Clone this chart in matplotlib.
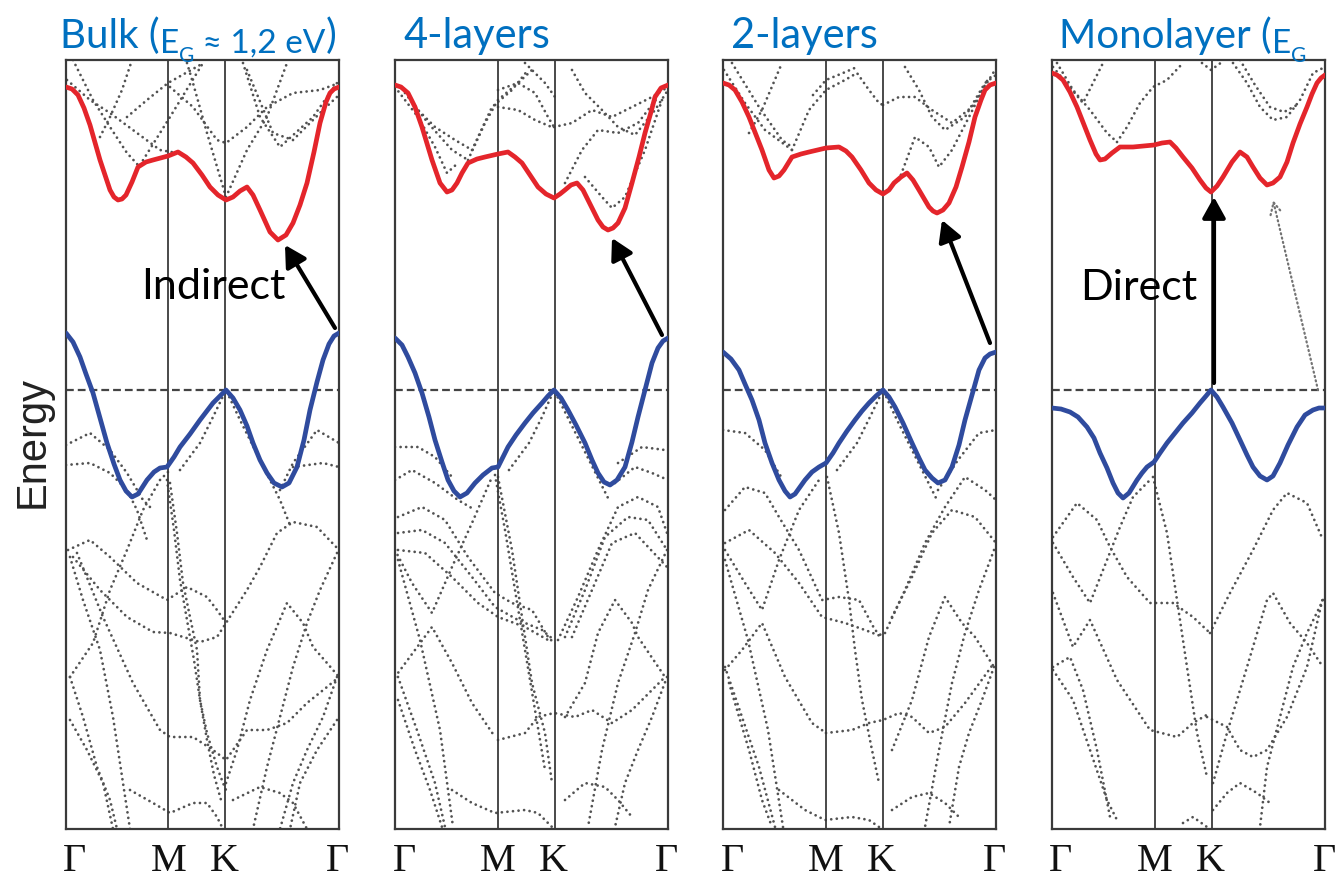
import matplotlib
matplotlib.use("Agg")
import matplotlib.pyplot as plt

W, H = 1337, 880

# path Γ - M - K - Γ (path units), energy in eV-like units, VBM = 0
KPTS = [0, 102.5, 159.5, 273]
KLABELS = ["Γ", "M", "K", "Γ"]
KLABEL_POS = [9, 103, 158, 272]
E_MIN, E_MAX = -4.39, 3.30

# ---------------- bulk ----------------
BULK_CB_K = [0, 6, 12, 18, 24, 34, 44, 48, 52, 56, 60, 66, 72, 80, 87, 102, 112, 120, 127, 136, 144, 152, 160,
             167, 174, 181, 187, 194, 204, 212, 220, 227, 234, 241, 248, 254, 260, 264, 268, 273]
BULK_CB_E = [3.03, 3.01, 2.95, 2.82, 2.65, 2.30, 2.00, 1.93, 1.90, 1.91, 1.95, 2.08, 2.23, 2.28, 2.30, 2.34, 2.38,
             2.33, 2.27, 2.15, 2.03, 1.95, 1.90, 1.93, 1.99, 2.03, 1.95, 1.80, 1.58, 1.50, 1.55, 1.67, 1.85, 2.07,
             2.38, 2.67, 2.88, 2.97, 3.01, 3.03]
BULK_VB_K = [0, 7, 14, 20, 27, 34, 41, 48, 54, 60, 66, 72, 81, 88, 94, 101, 108, 114, 124, 134, 147, 153, 160,
             167, 174, 181, 187, 194, 201, 208, 216, 223, 231, 238, 244, 251, 257, 263, 268, 273]
BULK_VB_E = [0.57, 0.48, 0.33, 0.16, -0.03, -0.28, -0.53, -0.74, -0.90, -1.01, -1.07, -1.04, -0.90, -0.82, -0.78,
             -0.77, -0.67, -0.57, -0.44, -0.30, -0.13, -0.07, 0.00, -0.08, -0.20, -0.36, -0.53, -0.70, -0.83, -0.93,
             -0.97, -0.93, -0.77, -0.50, -0.20, 0.08, 0.30, 0.46, 0.54, 0.57]
BULK_DOTS = [
    ([7, 27, 44, 61, 72], [3.30, 2.90, 2.63, 2.37, 2.25]),
    ([1, 24, 44, 71, 94, 111], [3.10, 2.90, 2.77, 2.57, 2.40, 2.37]),
    ([34, 44, 56, 66], [2.53, 2.73, 3.00, 3.30]),
    ([74, 104, 137], [2.25, 2.73, 3.27]),
    ([104, 127, 151, 160, 181, 201, 227, 254, 273], [3.03, 2.83, 2.50, 2.47, 2.63, 2.83, 2.97, 3.00, 3.07]),
    ([61, 81, 102, 134], [2.73, 2.90, 3.07, 3.25]),
    ([177, 194, 214, 247, 271], [3.27, 2.73, 2.43, 2.73, 3.07]),
    ([181, 207, 227, 257, 273], [3.20, 2.57, 2.50, 2.80, 2.95]),
    ([160, 181, 201, 211, 221], [1.93, 2.40, 2.73, 3.00, 3.27]),
    ([121, 127, 141, 160], [3.27, 3.07, 2.57, 1.93]),
    ([2, 24, 44, 71, 101, 121, 141, 151, 160], [-1.60, -1.50, -1.67, -1.93, -2.10, -1.97, -2.07, -2.20, -2.33]),
    ([7, 34, 61, 87, 104, 134, 151, 160, 181, 194, 211, 227, 251, 273],
     [-1.67, -2.00, -2.27, -2.42, -2.43, -2.52, -2.47, -2.33, -2.00, -1.77, -1.43, -1.32, -1.37, -1.60]),
    ([11, 37, 67, 94, 104, 127, 147, 160, 181, 201, 221, 241, 261, 273],
     [-1.63, -2.27, -2.93, -3.40, -3.47, -3.47, -3.60, -3.70, -3.40, -3.40, -3.33, -3.13, -2.97, -2.87]),
    ([4, 27, 44, 61, 77, 94, 104], [-2.87, -2.53, -2.00, -1.60, -1.20, -0.90, -0.80]),
    ([4, 17, 34, 47, 57, 64], [-1.67, -2.10, -2.60, -3.27, -3.93, -4.39]),
    ([4, 17, 31, 44, 51], [-2.87, -3.27, -3.77, -4.10, -4.39]),
    ([4, 21, 37, 47], [-3.30, -3.60, -3.93, -4.39]),
    ([104, 111, 117, 124, 131, 134, 141, 151, 157, 160], [-0.93, -1.43, -1.93, -2.27, -2.60, -3.10, -3.43, -3.77, -3.93, -4.00]),
    ([101, 108, 114, 121, 128, 134, 141, 148, 155], [-0.90, -1.40, -1.90, -2.30, -2.70, -3.10, -3.50, -3.85, -4.10]),
    ([64, 87, 104, 127, 141, 151, 157], [-4.00, -4.13, -4.23, -4.13, -4.13, -4.27, -4.39]),
    ([160, 171, 184, 201, 221, 237, 247, 261, 273], [-3.93, -3.60, -3.10, -2.60, -2.13, -2.33, -2.57, -2.73, -2.87]),
    ([271, 254, 241, 227, 214, 201, 187], [-1.63, -2.00, -2.33, -2.77, -3.27, -3.77, -4.39]),
    ([271, 257, 241, 227, 214], [-2.87, -3.27, -3.60, -3.93, -4.39]),
    ([271, 251, 234, 224], [-3.30, -3.60, -3.93, -4.39]),
    ([167, 194, 214, 227, 241], [-4.10, -3.97, -4.03, -4.13, -4.39]),
    ([0, 24, 44, 61, 77, 87], [-0.55, -0.43, -0.60, -0.83, -1.10, -1.20]),
    ([0, 24, 44, 61, 71, 81], [-0.75, -0.73, -0.83, -1.00, -1.20, -1.50]),
    ([214, 227, 251, 273], [-1.00, -0.73, -0.40, -0.53]),
    ([227, 257, 273], [-0.77, -0.73, -0.77]),
    ([114, 134, 147, 160, 174, 194, 214, 224], [-0.80, -0.53, -0.27, 0.00, -0.30, -0.70, -1.10, -1.35]),
]

# ---------------- 4 layers ----------------
L4_CB_K = [0, 6, 13, 20, 27, 37, 45, 52, 57, 62, 67, 73, 82, 90, 103, 113, 120, 127, 135, 143, 151, 159, 165, 170,
           176, 182, 188, 193, 203, 208, 213, 218, 223, 230, 237, 244, 250, 256, 260, 266, 273]
L4_CB_E = [3.05, 3.03, 2.97, 2.83, 2.63, 2.30, 2.07, 1.98, 2.00, 2.07, 2.17, 2.27, 2.31, 2.33, 2.36, 2.38, 2.33,
           2.27, 2.15, 2.03, 1.96, 1.92, 1.96, 2.00, 2.05, 2.07, 2.00, 1.90, 1.70, 1.63, 1.60, 1.62, 1.67, 1.82,
           2.07, 2.33, 2.57, 2.78, 2.93, 3.02, 3.05]
L4_VB_K = [0, 7, 13, 20, 27, 34, 40, 47, 53, 59, 65, 72, 80, 88, 97, 103, 108, 113, 121, 130, 138, 147, 153, 159,
           166, 173, 181, 190, 197, 203, 209, 215, 222, 230, 237, 243, 250, 257, 263, 268, 273]
L4_VB_E = [0.52, 0.45, 0.33, 0.17, -0.03, -0.27, -0.50, -0.72, -0.90, -1.01, -1.07, -1.03, -0.93, -0.85, -0.78,
           -0.77, -0.67, -0.57, -0.45, -0.33, -0.23, -0.13, -0.06, 0.00, -0.08, -0.20, -0.35, -0.53, -0.70, -0.83,
           -0.92, -0.95, -0.90, -0.77, -0.52, -0.27, 0.00, 0.27, 0.42, 0.49, 0.52]
L4_DOTS = [
    ([0, 23, 40, 52, 63], [3.03, 2.73, 2.43, 2.17, 2.27]),
    ([10, 33, 57, 73], [2.97, 2.67, 2.40, 2.30]),
    ([20, 40, 60, 77], [2.83, 2.63, 2.50, 2.40]),
    ([73, 90, 103, 123, 137], [2.30, 2.67, 2.90, 3.07, 3.20]),
    ([77, 97, 117, 133], [2.40, 2.83, 3.00, 3.20]),
    ([103, 123, 140, 153, 159], [3.00, 3.07, 2.97, 2.73, 2.63]),
    ([103, 123, 140, 159], [2.83, 2.80, 2.70, 2.62]),
    ([130, 137, 150, 160], [3.27, 3.20, 3.07, 2.93]),
    ([159, 177, 197, 217, 237, 257, 273], [2.63, 2.67, 2.80, 2.73, 2.83, 2.93, 3.03]),
    ([170, 187, 203, 223, 243, 263], [2.07, 2.40, 2.60, 2.57, 2.67, 2.93]),
    ([190, 207, 217, 230, 250, 267], [2.13, 1.93, 1.82, 1.93, 2.40, 2.90]),
    ([177, 190, 207, 223, 240, 260, 273], [3.20, 2.97, 2.80, 2.63, 2.55, 2.80, 3.00]),
    ([0, 23, 40, 57], [-0.57, -0.57, -0.67, -0.87]),
    ([0, 17, 40, 63, 80], [-0.90, -0.80, -0.93, -1.10, -1.20]),
    ([223, 247, 270, 273], [-0.73, -0.57, -0.60, -0.62]),
    ([220, 240, 257, 273], [-0.93, -0.77, -0.83, -0.90]),
    ([3, 27, 50, 73, 100, 117, 137, 153, 159], [-1.27, -1.17, -1.30, -1.67, -2.03, -2.13, -2.20, -2.47, -2.53]),
    ([3, 27, 50, 77, 100, 123, 147, 159], [-1.43, -1.40, -1.53, -1.87, -2.17, -2.30, -2.40, -2.50]),
    ([3, 30, 57, 83, 103, 130, 153], [-1.60, -1.63, -1.87, -2.13, -2.27, -2.37, -2.50]),
    ([0, 17, 37, 57, 77, 97], [-1.60, -1.93, -2.23, -1.77, -1.33, -0.87]),
    ([0, 20, 37, 57, 77, 100], [-2.87, -2.60, -2.37, -2.73, -3.13, -3.47]),
    ([103, 130, 143, 159, 180, 197, 217, 237, 270], [-3.50, -3.43, -3.27, -3.23, -3.27, -3.20, -3.33, -3.20, -2.87]),
    ([103, 117, 127, 137, 150, 157], [-0.87, -1.60, -2.27, -2.93, -3.43, -3.93]),
    ([100, 110, 120, 130, 140, 150], [-0.85, -1.40, -2.00, -2.60, -3.20, -3.80]),
    ([3, 23, 40, 50], [-2.87, -3.43, -3.93, -4.37]),
    ([3, 20, 35, 47], [-3.10, -3.60, -4.00, -4.37]),
    ([3, 25, 45, 58], [-1.70, -2.50, -3.40, -4.37]),
    ([57, 77, 100, 130, 143, 157], [-4.00, -4.13, -4.23, -4.20, -4.23, -4.37]),
    ([163, 183, 203, 223, 243, 263, 272], [-2.50, -2.07, -1.60, -1.17, -1.07, -1.17, -1.43]),
    ([170, 190, 210, 233, 253, 272], [-2.47, -2.00, -1.47, -1.27, -1.30, -1.60]),
    ([177, 197, 217, 240, 272], [-2.47, -2.00, -1.53, -1.43, -1.77]),
    ([170, 190, 203, 220, 237, 243, 270], [-3.27, -2.93, -2.43, -2.10, -2.33, -2.47, -2.87]),
    ([272, 253, 240, 223, 207, 193], [-1.60, -2.00, -2.43, -2.93, -3.60, -4.37]),
    ([272, 257, 243, 230, 220], [-2.87, -3.27, -3.60, -3.93, -4.37]),
    ([170, 190, 210, 223, 237], [-4.10, -3.93, -3.97, -4.10, -4.27]),
    ([114, 134, 147, 159, 174, 194, 214], [-0.80, -0.53, -0.27, 0.00, -0.30, -0.70, -1.10]),
]

# ---------------- 2 layers ----------------
L2_CB_K = [0, 6, 12, 19, 26, 39, 46, 51, 56, 61, 69, 78, 86, 103, 116, 123, 129, 138, 146, 153, 160, 166, 171, 178,
           184, 190, 196, 206, 210, 214, 220, 226, 233, 239, 246, 252, 258, 262, 267, 273]
L2_CB_E = [3.07, 3.05, 3.00, 2.88, 2.73, 2.40, 2.20, 2.12, 2.14, 2.20, 2.33, 2.36, 2.38, 2.42, 2.43, 2.39, 2.33,
           2.20, 2.07, 2.00, 1.96, 2.00, 2.07, 2.13, 2.17, 2.10, 2.00, 1.83, 1.79, 1.77, 1.80, 1.87, 2.03, 2.23,
           2.48, 2.73, 2.90, 3.00, 3.05, 3.07]
L2_VB_K = [0, 8, 16, 22, 29, 36, 42, 49, 56, 62, 67, 72, 82, 89, 96, 103, 110, 116, 124, 132, 139, 146, 153, 160,
           166, 172, 180, 189, 196, 202, 209, 215, 222, 229, 236, 242, 249, 256, 262, 267, 273]
L2_VB_E = [0.38, 0.31, 0.20, 0.06, -0.10, -0.30, -0.53, -0.73, -0.90, -1.01, -1.07, -1.04, -0.90, -0.82, -0.77,
           -0.73, -0.63, -0.53, -0.41, -0.30, -0.21, -0.13, -0.06, 0.00, -0.07, -0.17, -0.33, -0.53, -0.68, -0.80,
           -0.88, -0.93, -0.90, -0.77, -0.55, -0.30, -0.05, 0.20, 0.32, 0.36, 0.38]
L2_DOTS = [
    ([1, 22, 42, 69], [3.20, 2.87, 2.60, 2.40]),
    ([9, 36, 59, 69], [3.27, 2.83, 2.50, 2.43]),
    ([69, 86, 103, 122, 134, 146, 156, 160], [2.40, 2.80, 3.00, 3.10, 3.17, 3.00, 2.87, 2.85]),
    ([160, 176, 192, 209, 229, 249, 272], [2.85, 2.93, 2.93, 2.80, 2.67, 2.83, 3.20]),
    ([26, 39, 59], [2.57, 2.80, 3.27]),
    ([182, 196, 209, 222, 242, 262, 273], [3.23, 3.00, 2.73, 2.60, 2.73, 3.07, 3.15]),
    ([176, 192, 206, 216, 229, 246, 266], [2.10, 2.53, 2.43, 2.23, 2.40, 2.73, 3.13]),
    ([90, 103, 120, 134], [2.95, 3.10, 3.17, 3.23]),
    ([0, 22, 42, 60], [-0.40, -0.43, -0.60, -0.90]),
    ([215, 235, 256, 273], [-1.00, -0.70, -0.43, -0.40]),
    ([2, 22, 42, 56, 76, 99, 116, 136, 152, 160], [-1.20, -0.97, -1.03, -1.27, -1.60, -2.10, -2.07, -2.10, -2.40, -2.47]),
    ([2, 26, 52, 76, 99, 122, 142, 160], [-1.53, -1.40, -1.63, -1.93, -2.27, -2.33, -2.40, -2.47]),
    ([162, 182, 202, 222, 242, 262, 273], [-2.43, -2.00, -1.53, -1.17, -0.87, -1.00, -1.10]),
    ([169, 189, 209, 229, 252, 273], [-2.27, -1.87, -1.43, -1.20, -1.27, -1.53]),
    ([2, 22, 39, 56, 76, 96], [-1.60, -1.93, -2.20, -1.70, -1.20, -0.90]),
    ([2, 19, 39, 62, 89, 103], [-2.80, -2.60, -2.33, -2.87, -3.33, -3.43]),
    ([103, 129, 146, 160, 176, 189, 206, 222, 242, 271], [-3.43, -3.40, -3.33, -3.30, -3.23, -3.27, -3.43, -3.37, -3.13, -2.73]),
    ([104, 116, 126, 132, 139, 149, 156], [-0.87, -1.43, -2.10, -2.60, -3.10, -3.60, -3.93]),
    ([2, 19, 36, 52], [-2.77, -3.27, -3.77, -4.37]),
    ([6, 26, 39, 49], [-2.93, -3.60, -4.10, -4.37]),
    ([2, 25, 45, 60], [-1.70, -2.50, -3.40, -4.37]),
    ([56, 82, 102, 129, 146, 156], [-4.00, -4.20, -4.30, -4.27, -4.30, -4.37]),
    ([169, 189, 206, 222, 239, 252, 271], [-3.60, -3.10, -2.47, -2.07, -2.33, -2.47, -2.77]),
    ([271, 256, 242, 229, 216, 202], [-1.60, -2.00, -2.43, -2.93, -3.60, -4.37]),
    ([271, 259, 246, 236, 226], [-2.77, -3.10, -3.43, -3.77, -4.37]),
    ([169, 189, 206, 222, 236], [-4.20, -4.07, -4.03, -4.13, -4.27]),
    ([114, 134, 147, 160, 174, 194, 214], [-0.80, -0.53, -0.27, 0.00, -0.30, -0.70, -1.10]),
]

# ---------------- monolayer ----------------
ML_CB_K = [0, 5, 11, 18, 25, 38, 44, 48, 53, 60, 68, 81, 102, 110, 118, 124, 131, 140, 148, 154, 159, 165, 171,
           180, 188, 195, 201, 208, 215, 221, 228, 235, 241, 248, 255, 260, 265, 269, 273]
ML_CB_E = [3.17, 3.15, 3.10, 2.98, 2.83, 2.50, 2.36, 2.30, 2.31, 2.37, 2.43, 2.43, 2.45, 2.47, 2.48, 2.42, 2.33,
           2.22, 2.10, 2.02, 1.98, 2.04, 2.13, 2.28, 2.38, 2.33, 2.23, 2.12, 2.05, 2.07, 2.13, 2.28, 2.47, 2.66,
           2.83, 2.96, 3.07, 3.12, 3.15]
ML_VB_K = [0, 9, 18, 26, 35, 42, 48, 55, 61, 66, 71, 77, 85, 90, 95, 102, 108, 115, 123, 131, 140, 148, 154, 159,
           165, 171, 180, 188, 195, 201, 208, 215, 221, 228, 236, 245, 253, 261, 267, 273]
ML_VB_E = [-0.18, -0.19, -0.22, -0.27, -0.37, -0.48, -0.63, -0.78, -0.93, -1.03, -1.08, -1.03, -0.90, -0.83, -0.77,
           -0.72, -0.63, -0.53, -0.43, -0.33, -0.23, -0.13, -0.06, 0.00, -0.07, -0.17, -0.33, -0.50, -0.65, -0.77,
           -0.86, -0.90, -0.86, -0.73, -0.55, -0.37, -0.25, -0.20, -0.18, -0.18]
ML_DOTS = [
    ([5, 21, 38, 55, 65], [3.27, 3.00, 2.80, 2.57, 2.48]),
    ([65, 75, 88, 101, 115, 131], [2.48, 2.63, 2.87, 3.03, 3.10, 3.27]),
    ([1, 31, 51], [3.23, 2.87, 3.27]),
    ([181, 195, 208, 221, 235, 248, 261, 273], [3.27, 3.07, 2.83, 2.70, 2.73, 2.90, 3.17, 3.23]),
    ([150, 159, 170], [3.27, 3.20, 3.28]),
    ([188, 203, 218, 232, 245], [3.30, 3.05, 2.83, 2.78, 2.85]),
    ([1, 25, 45, 58, 75, 98, 121, 141, 158], [-1.47, -1.13, -1.30, -1.57, -1.87, -2.13, -2.13, -2.27, -2.43]),
    ([1, 21, 38, 55, 68, 81, 98], [-1.53, -1.87, -2.13, -1.70, -1.37, -1.07, -0.90]),
    ([1, 21, 38, 65, 98, 125, 141, 158], [-2.03, -2.57, -2.30, -2.90, -3.40, -3.47, -3.33, -3.23]),
    ([1, 18, 31, 45, 58], [-2.77, -2.67, -3.00, -3.60, -4.27]),
    ([1, 21, 38, 55, 65], [-2.80, -3.10, -3.60, -4.10, -4.30]),
    ([101, 115, 125, 135, 145, 155], [-0.87, -1.43, -2.10, -2.77, -3.43, -3.87]),
    ([158, 178, 201, 221, 235, 255, 271], [-2.43, -2.03, -1.60, -1.20, -1.03, -1.13, -1.50]),
    ([161, 175, 195, 215, 221, 238, 255, 271], [-3.93, -3.43, -2.77, -2.10, -2.03, -2.33, -2.53, -2.77]),
    ([155, 175, 188, 201, 215, 235, 255, 271], [-3.27, -3.37, -3.60, -3.67, -3.60, -3.27, -2.77, -2.07]),
    ([161, 175, 188, 205, 218], [-4.20, -4.03, -3.93, -4.03, -4.13]),
    ([271, 255, 241, 228, 215, 208], [-2.10, -2.43, -2.77, -3.27, -3.77, -4.37]),
    ([131, 141, 155], [-4.33, -4.27, -4.37]),
]

# gap arrows: (k_tail, E_tail, k_head, E_head)
GAP_ARROWS = [(269, 0.62, 219, 1.45), (267, 0.55, 217, 1.52), (267, 0.47, 219, 1.70), (162, 0.07, 162, 1.93)]
ML_INDIRECT = (266, 0.00, 221, 1.90)
GAP_TEXT = [("Indirect", 147, 1.03), None, None, ("Direct", 87, 1.02)]

# title pieces: (text, size, baseline shift px)
TITLE_PIECES = [
    [("Bulk (", 29, 0), ("E", 24, 5), ("G", 15, 14), (" ≈ 1,2 eV", 24, 5), (")", 29, 0)],
    [("4-layers", 30, 0)],
    [("2-layers", 30, 0)],
    [("Monolayer (", 29, 0), ("E", 24, 5), ("G", 15, 14)],
]
TITLE_X = [60, 403, 731, 1059]

PANEL_LEFT = [66, 395, 723, 1052]
PANEL_W, PANEL_TOP, PANEL_BOT = 273, 60, 829

RED = "#e4252b"
BLUE = "#2f4b9e"
TITLE_BLUE = "#0070c0"
FRAME = "#3a3a3a"

panels = [
    (BULK_CB_K, BULK_CB_E, BULK_VB_K, BULK_VB_E, BULK_DOTS),
    (L4_CB_K, L4_CB_E, L4_VB_K, L4_VB_E, L4_DOTS),
    (L2_CB_K, L2_CB_E, L2_VB_K, L2_VB_E, L2_DOTS),
    (ML_CB_K, ML_CB_E, ML_VB_K, ML_VB_E, ML_DOTS),
]

fig = plt.figure(figsize=(W / 100, H / 100), dpi=100)
fig.patch.set_facecolor("white")

for i, (cbk, cbe, vbk, vbe, dots) in enumerate(panels):
    ax = fig.add_axes([PANEL_LEFT[i] / W, 1 - PANEL_BOT / H, PANEL_W / W, (PANEL_BOT - PANEL_TOP) / H])
    ax.set_xlim(KPTS[0], KPTS[-1])
    ax.set_ylim(E_MIN, E_MAX)
    ax.set_xticks([])
    ax.set_yticks([])
    for sp in ax.spines.values():
        sp.set_color(FRAME)
        sp.set_linewidth(1.6)

    # other bands, dotted
    for kk, ee in dots:
        ax.plot(kk, ee, color="0.32", lw=2.0, linestyle=(0, (0.01, 2.0)),
                dash_capstyle="round", zorder=1)

    for kp in KPTS[1:3]:
        ax.axvline(kp, color=FRAME, lw=1.3, zorder=2)
    ax.axhline(0, color="#444444", lw=1.6, linestyle=(0, (3.5, 1.8)), zorder=2)

    ax.plot(cbk, cbe, color=RED, lw=3.4, solid_joinstyle="round", solid_capstyle="round", zorder=3)
    ax.plot(vbk, vbe, color=BLUE, lw=3.4, solid_joinstyle="round", solid_capstyle="round", zorder=3)

    kt, et, kh, eh = GAP_ARROWS[i]
    ax.annotate("", xy=(kh, eh), xytext=(kt, et),
                arrowprops=dict(arrowstyle="-|>,head_length=0.9,head_width=0.5", lw=3,
                                color="black", mutation_scale=14, shrinkA=0, shrinkB=0), zorder=4)
    if i == 3:
        kt, et, kh, eh = ML_INDIRECT
        ax.annotate("", xy=(kh, eh), xytext=(kt, et),
                    arrowprops=dict(arrowstyle="->,head_length=0.6,head_width=0.3", lw=1.6,
                                    color="0.45", linestyle=(0, (0.5, 1.5)), mutation_scale=14,
                                    shrinkA=0, shrinkB=0), zorder=4)
    if GAP_TEXT[i] is not None:
        txt, kx, ey = GAP_TEXT[i]
        ax.text(kx, ey, txt, ha="center", va="center", fontsize=31, family=["Lato", "DejaVu Sans"],
                color="black", zorder=5)

    trans = ax.get_xaxis_transform()
    for kp, lab in zip(KLABEL_POS, KLABELS):
        ax.text(kp, -42 / (PANEL_BOT - PANEL_TOP), lab, transform=trans, ha="center", va="baseline",
                fontsize=29, family="Liberation Serif", color="#111111", clip_on=False)

# titles, pieced together so the small E_G sits right
renderer = fig.canvas.get_renderer()
for x0, pieces in zip(TITLE_X, TITLE_PIECES):
    x = x0
    for txt, size, dy in pieces:
        t = fig.text(x / W, 1 - (48 + dy) / H, txt, fontsize=size, color=TITLE_BLUE,
                     family=["Lato", "DejaVu Sans"], ha="left", va="baseline")
        x += t.get_window_extent(renderer).width

fig.text(33 / W, 1 - 442 / H, "Energy", rotation=90, ha="center", va="center",
         fontsize=30, family="Liberation Sans", color="#222222")

fig.savefig("out.png", dpi=100, facecolor="white")
